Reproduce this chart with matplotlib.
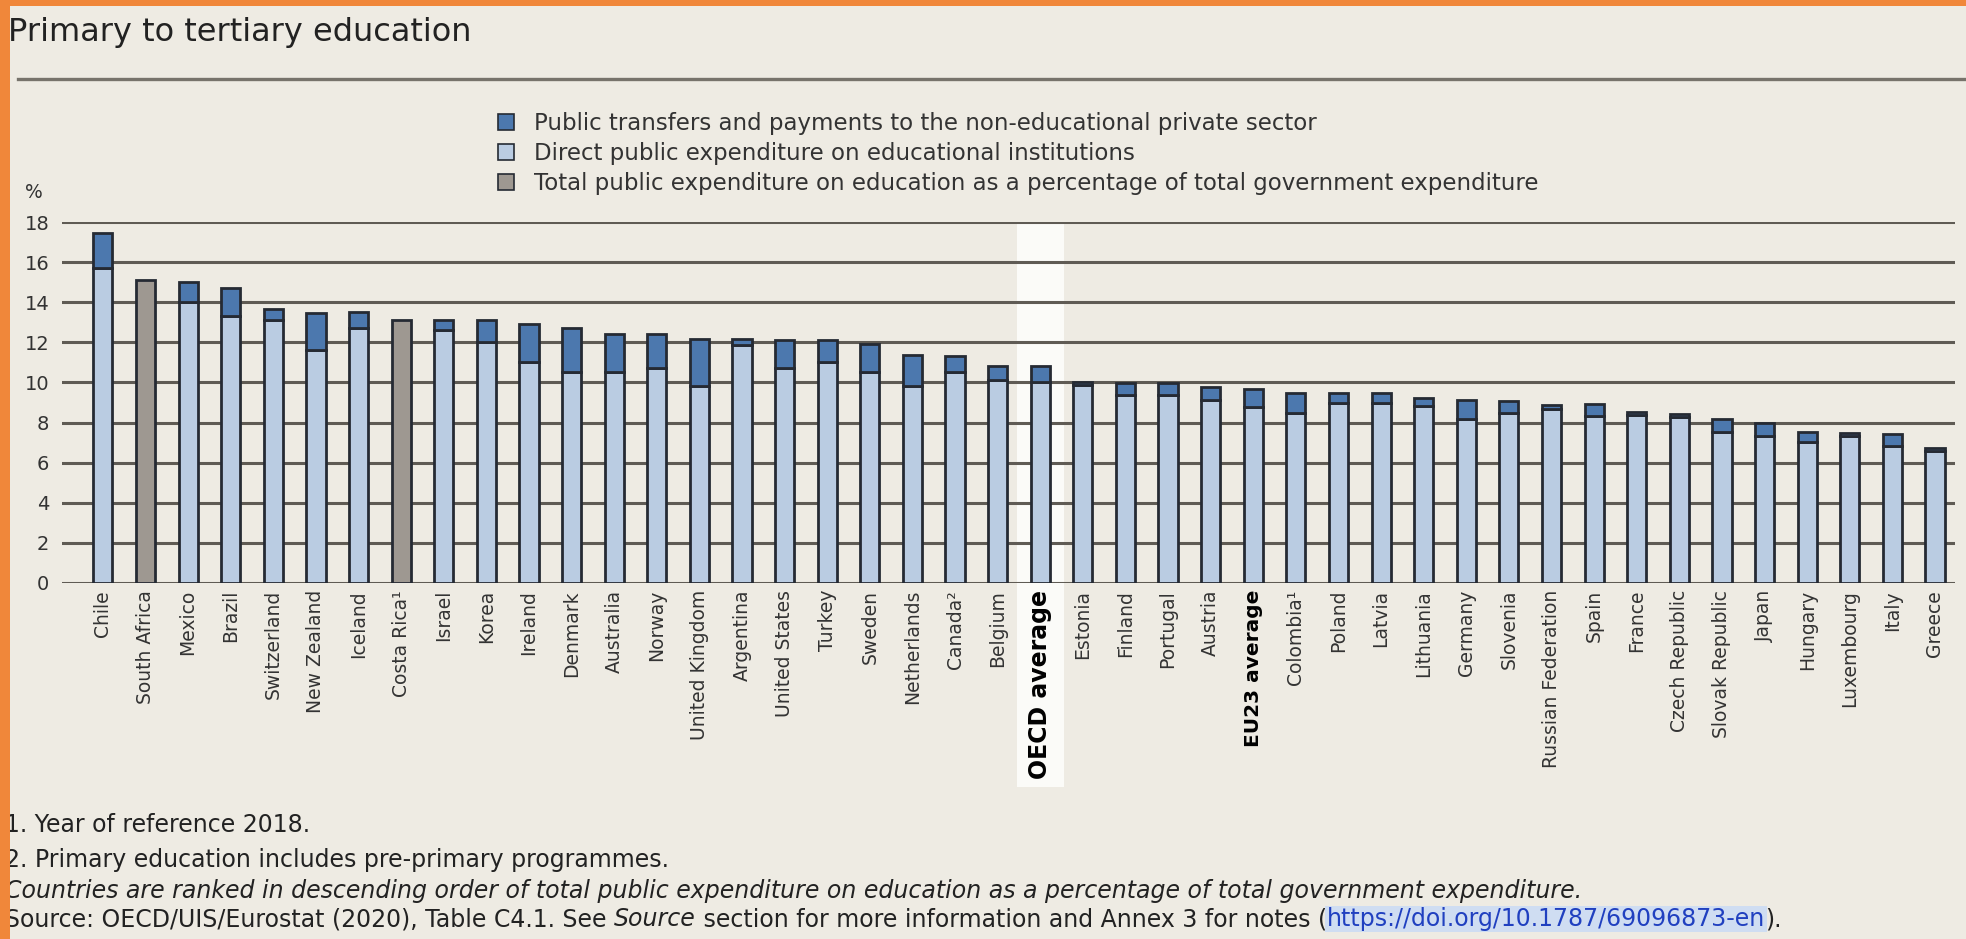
import numpy as np
import matplotlib
matplotlib.use("Agg")
from matplotlib import pyplot as plt
from matplotlib.patches import Patch, Rectangle
from matplotlib.lines import Line2D

countries = ["Chile", "South Africa", "Mexico", "Brazil", "Switzerland", "New Zealand", "Iceland",
             "Costa Rica\u00b9", "Israel", "Korea", "Ireland", "Denmark", "Australia", "Norway",
             "United Kingdom", "Argentina", "United States", "Turkey", "Sweden", "Netherlands",
             "Canada\u00b2", "Belgium", "OECD average", "Estonia", "Finland", "Portugal", "Austria",
             "EU23 average", "Colombia\u00b9", "Poland", "Latvia", "Lithuania", "Germany", "Slovenia",
             "Russian Federation", "Spain", "France", "Czech Republic", "Slovak Republic", "Japan",
             "Hungary", "Luxembourg", "Italy", "Greece"]

nan = np.nan
direct = [15.7, nan, 14.0, 13.3, 13.1, 11.6, 12.7, nan, 12.6, 12.0, 11.0, 10.5, 10.5, 10.7,
          9.8, 11.85, 10.7, 11.0, 10.5, 9.8, 10.5, 10.1, 10.0, 9.85, 9.35, 9.35, 9.1, 8.8,
          8.5, 9.0, 9.0, 8.85, 8.2, 8.5, 8.7, 8.35, 8.4, 8.3, 7.55, 7.35, 7.05, 7.35, 6.85, 6.6]
transfers = [1.75, nan, 1.0, 1.4, 0.55, 1.85, 0.8, nan, 0.5, 1.1, 1.9, 2.2, 1.9, 1.7,
             2.35, 0.3, 1.4, 1.1, 1.4, 1.55, 0.8, 0.7, 0.8, 0.15, 0.6, 0.6, 0.65, 0.85,
             0.95, 0.45, 0.45, 0.35, 0.9, 0.55, 0.2, 0.6, 0.15, 0.15, 0.65, 0.65, 0.5, 0.15, 0.6, 0.15]
total_only = [nan, 15.1, nan, nan, nan, nan, nan, 13.1, nan, nan, nan, nan, nan, nan,
              nan, nan, nan, nan, nan, nan, nan, nan, nan, nan, nan, nan, nan, nan,
              nan, nan, nan, nan, nan, nan, nan, nan, nan, nan, nan, nan, nan, nan, nan, nan]
averages = {"OECD average": 17, "EU23 average": 14.5}

legend_labels = ["Public transfers and payments to the non-educational private sector",
                 "Direct public expenditure on educational institutions",
                 "Total public expenditure on education as a percentage of total government expenditure"]

bg = "#EEEBE3"
c_light = "#BACCE2"
c_dark = "#4C78AE"
c_gray = "#9E9891"
c_edge = "#252A33"
c_grid = "#5F5B54"
c_text = "#333333"

plt.rcParams["font.family"] = ["DejaVu Sans"]

fig = plt.figure(figsize=(19.66, 9.39), dpi=100, facecolor=bg)
W, H = 1966, 939
ax = fig.add_axes([62 / W, 1 - 583 / H, (1955 - 62) / W, (583 - 222) / H])
ax.set_facecolor(bg)

x = np.arange(len(countries))
direct = np.array(direct)
transfers = np.array(transfers)
total_only = np.array(total_only)

bw = 0.45
ax.bar(x, direct, width=bw, color=c_light, edgecolor=c_edge, linewidth=2, zorder=3)
ax.bar(x, transfers, bottom=direct, width=bw, color=c_dark, edgecolor=c_edge, linewidth=2, zorder=3)
ax.bar(x, total_only, width=bw, color=c_gray, edgecolor=c_edge, linewidth=2, zorder=3)

# white highlight behind OECD average
i_oecd = countries.index("OECD average")
ax.add_patch(Rectangle((i_oecd - 0.55, -0.565), 1.1, 1.565, transform=ax.get_xaxis_transform(),
                       facecolor="#FBFBF8", edgecolor="none", clip_on=False, zorder=0))

ax.set_xlim(-0.96, len(countries) - 0.53)
ax.set_ylim(0, 18)
ax.set_yticks(np.arange(0, 19, 2))
ax.yaxis.grid(True, color=c_grid, linewidth=2.2, zorder=1)
ax.set_axisbelow(True)
for s in ax.spines.values():
    s.set_visible(False)
ax.tick_params(axis="y", length=0, pad=9, labelsize=14, labelcolor=c_text)
ax.tick_params(axis="x", length=0, pad=5)
ax.set_xticks(x)
ax.set_xticklabels(countries, rotation=90, fontsize=13.5, color=c_text)
for lab in ax.get_xticklabels():
    if lab.get_text() in averages:
        lab.set_fontweight("bold")
        lab.set_fontsize(averages[lab.get_text()])
        lab.set_color("black")

fig.text(25 / W, 1 - 192 / H, "%", fontsize=13.5, color=c_text, ha="left", va="center")

# title and separator
fig.text(8 / W, 1 - 33 / H, "Primary to tertiary education", fontsize=23, color="#222222",
         ha="left", va="center")
fig.add_artist(Line2D([18 / W, 1], [1 - 79 / H, 1 - 79 / H], color="#77736B", linewidth=2.4))

handles = [Patch(facecolor=c_dark, edgecolor=c_edge, linewidth=1.2),
           Patch(facecolor=c_light, edgecolor=c_edge, linewidth=1.2),
           Patch(facecolor=c_gray, edgecolor=c_edge, linewidth=1.2)]
fig.legend(handles, legend_labels, loc="upper left", bbox_to_anchor=(498 / W, 1 - 112 / H),
           frameon=False, fontsize=16.5, handlelength=0.7, handleheight=0.7,
           handletextpad=0.85, labelspacing=0.3, borderpad=0, borderaxespad=0,
           labelcolor=c_text)

# notes
fs = 17
fig.text(5 / W, 1 - 825 / H, "1. Year of reference 2018.", fontsize=fs, color="#222222", va="center")
fig.text(5 / W, 1 - 860 / H, "2. Primary education includes pre-primary programmes.", fontsize=fs,
         color="#222222", va="center")
fig.text(5 / W, 1 - 891 / H, "Countries are ranked in descending order of total public expenditure on "
         "education as a percentage of total government expenditure.", fontsize=fs, style="italic",
         color="#222222", va="center")
t = fig.text(5 / W, 1 - 919 / H, "Source: OECD/UIS/Eurostat (2020), Table C4.1. See ", fontsize=fs,
             color="#222222", va="center")
t = ax.annotate("Source", xy=(1, 0), xycoords=t, va="bottom", fontsize=fs, style="italic", color="#222222")
t = ax.annotate(" section for more information and Annex 3 for notes (", xy=(1, 0), xycoords=t,
                va="bottom", fontsize=fs, color="#222222")
t = ax.annotate("https://doi.org/10.1787/69096873-en", xy=(1, 0), xycoords=t, va="bottom", fontsize=fs,
                color="#2040C0", bbox=dict(facecolor="#CFDDF2", edgecolor="none", pad=1))
t = ax.annotate(").", xy=(1, 0), xycoords=t, va="bottom", fontsize=fs, color="#222222")

# orange frame
fig.add_artist(Rectangle((0, 0), 10 / W, 1, transform=fig.transFigure, facecolor="#F0873A",
                         edgecolor="none", zorder=10))
fig.add_artist(Rectangle((0, 1 - 6 / H), 1, 6 / H, transform=fig.transFigure, facecolor="#F0873A",
                         edgecolor="none", zorder=10))

fig.savefig("out.png", dpi=100, facecolor=bg)
